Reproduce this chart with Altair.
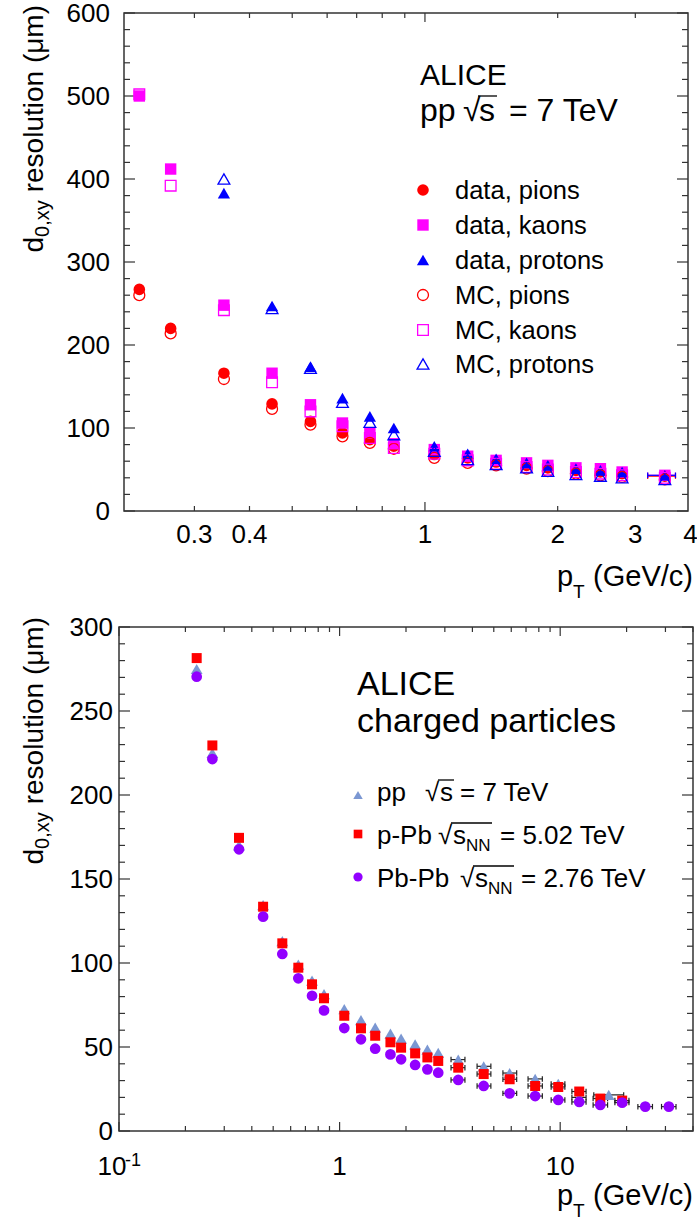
import altair as alt
import pandas as pd

FONT = "Liberation Sans"
FRAME = "#333333"

# ---------------- top panel: pp 7 TeV, identified particles ----------------
top_pt = [0.225, 0.265, 0.35, 0.45, 0.55, 0.65, 0.75, 0.85, 1.05, 1.25, 1.45,
          1.7, 1.9, 2.2, 2.5, 2.8, 3.5]
data_pions = [267, 220, 166, 129, 108, 94, 86, 78, 68, 64, 59, 55, 52, 49, 47, 45, 42]
mc_pions = [260, 214, 159, 123, 104, 90, 82, 75, 64, 58, 55, 51, 48, 45, 43, 41, 38]
data_kaons = [500, 412, 248, 166, 128, 106, 94, 81, 74, 66, 61, 58, 55, 52, 51, 47, 43]
mc_kaons = [502, 392, 242, 155, 120, 102, 88, 76, 69, 61, 57, 53, 50, 47, 45, 43, 40]
proton_pt = [0.35, 0.45, 0.55, 0.65, 0.75, 0.85, 1.05, 1.25, 1.45, 1.7, 1.9, 2.2,
             2.5, 2.8, 3.5]
data_protons = [383, 247, 174, 136, 114, 100, 78, 69, 63, 58, 55, 51, 49, 47, 43]
mc_protons = [400, 244, 172, 131, 107, 92, 72, 62, 56, 52, 48, 44, 42, 40, 38]
# last bin horizontal error (all species)
top_err_pt = [3.5]
top_err_lo = [3.2]
top_err_hi = [3.7]

# ---------------- bottom panel: charged particles ----------------
pp_pt = [0.225, 0.265, 0.35, 0.45, 0.55, 0.65, 0.75, 0.85, 1.05, 1.25, 1.45, 1.7,
         1.9, 2.2, 2.5, 2.8, 3.45, 4.5, 5.9, 7.7, 9.8, 12.2, 16.6]
pp_res = [275, 225, 170, 134.5, 113, 99, 89.5, 81.5, 72.5, 66, 61.5, 58, 55, 51.5,
          48.5, 46.5, 42.5, 38.5, 34.5, 31, 28, 20, 21.5]
pp_lo = [None] * 16 + [3.2, 4.2, 5.5, 7.15, 9.1, 11.3, 14.2]
pp_hi = [None] * 16 + [3.7, 4.85, 6.35, 8.3, 10.5, 13.1, 19.4]

ppb_pt = [0.225, 0.265, 0.35, 0.45, 0.55, 0.65, 0.75, 0.85, 1.05, 1.25, 1.45, 1.7,
          1.9, 2.2, 2.5, 2.8, 3.45, 4.5, 5.9, 7.7, 9.8, 12.2, 15.2, 19.1]
ppb_res = [281.5, 229.5, 174.5, 133.5, 111.7, 97.2, 87.3, 79, 68.6, 61.1, 56.7, 52.8,
           49.6, 46.2, 43.8, 41.7, 37.7, 33.9, 30.8, 26.8, 26.2, 23.5, 19.3, 18.1]
ppb_lo = [None] * 16 + [3.2, 4.2, 5.5, 7.15, 9.1, 11.3, 14.1, 17.7]
ppb_hi = [None] * 16 + [3.7, 4.85, 6.35, 8.3, 10.5, 13.1, 16.4, 20.5]

pbpb_pt = [0.225, 0.265, 0.35, 0.45, 0.55, 0.65, 0.75, 0.85, 1.05, 1.25, 1.45, 1.7,
           1.9, 2.2, 2.5, 2.8, 3.45, 4.5, 5.9, 7.7, 9.8, 12.2, 15.2, 19.1, 24.3, 31.1]
pbpb_res = [270.4, 221.4, 167.7, 127.6, 105.4, 90.9, 80.5, 71.8, 61.3, 54.6, 49, 45.6,
            42.7, 39.3, 36.7, 34.7, 30.4, 26.8, 22.4, 20.8, 18.5, 17.3, 15.5, 16.9,
            14.5, 14.5]
pbpb_lo = [None] * 16 + [3.2, 4.2, 5.5, 7.15, 9.1, 11.3, 14.1, 17.7, 22.5, 28.8]
pbpb_hi = [None] * 16 + [3.7, 4.85, 6.35, 8.3, 10.5, 13.1, 16.4, 20.5, 26.2, 33.5]

# ---------------- axis ticks and labels ----------------
top_y_major = [0, 100, 200, 300, 400, 500, 600]
top_y_minor = [v for v in range(20, 600, 20) if v % 100]
top_x_major = [1]
top_x_minor = [0.3, 0.4, 0.5, 0.6, 0.7, 0.8, 0.9, 2, 3]
top_x_label_vals = [0.3, 0.4, 1, 2, 3, 4]
top_x_labels = ["0.3", "0.4", "1", "2", "3", "4"]

bot_y_major = [0, 50, 100, 150, 200, 250, 300]
bot_y_minor = [v for v in range(10, 300, 10) if v % 50]
bot_x_major = [0.1, 1, 10]
bot_x_minor = [0.2, 0.3, 0.4, 0.5, 0.6, 0.7, 0.8, 0.9, 2, 3, 4, 5, 6, 7, 8, 9, 20, 30, 40]
bot_x_label_vals = [1, 10]
bot_x_labels = ["1", "10"]

# ---------------- colours ----------------
RED, MAGENTA, BLUE = "#ff0000", "#ff00ff", "#0000ff"
PP_COL, PPB_COL, PBPB_COL = "#7b97d2", "#ff0000", "#9200ff"

# ---------------- geometry (pixel layout) ----------------
T_L, T_R, T_T, T_B = 124, 688, 13, 511
B_L, B_R, B_T, B_B = 119, 693, 627, 1131

xs_top = alt.Scale(type="log", domain=[0.2077, 3.95], range=[T_L, T_R], nice=False)
ys_top = alt.Scale(domain=[0, 600], range=[T_B, T_T], nice=False, zero=False)
xs_bot = alt.Scale(type="log", domain=[0.1, 40], range=[B_L, B_R], nice=False)
ys_bot = alt.Scale(domain=[0, 300], range=[B_B, B_T], nice=False, zero=False)

ONE = pd.DataFrame({"k": [0]})


def pts(xv, yv, xs, ys, shape, color, size, filled=True):
    df = pd.DataFrame({"pt": xv, "res": yv})
    return alt.Chart(df).mark_point(shape=shape, filled=filled, size=size, color=color,
                                    opacity=1, strokeWidth=1.3).encode(
        x=alt.X("pt:Q", scale=xs, axis=None), y=alt.Y("res:Q", scale=ys, axis=None))


def xerr(xv, yv, lo, hi, xs, ys, color):
    df = pd.DataFrame({"pt": xv, "res": yv, "lo": lo, "hi": hi}).dropna()
    base = alt.Chart(df)
    bar = base.mark_rule(color=color, strokeWidth=1.2).encode(
        x=alt.X("lo:Q", scale=xs, axis=None), x2="hi:Q",
        y=alt.Y("res:Q", scale=ys, axis=None))
    cap_lo = base.mark_point(shape="M0,-1L0,1", size=30, color=color, filled=False,
                             opacity=1, strokeWidth=1.2).encode(
        x=alt.X("lo:Q", scale=xs, axis=None), y=alt.Y("res:Q", scale=ys, axis=None))
    cap_hi = base.mark_point(shape="M0,-1L0,1", size=30, color=color, filled=False,
                             opacity=1, strokeWidth=1.2).encode(
        x=alt.X("hi:Q", scale=xs, axis=None), y=alt.Y("res:Q", scale=ys, axis=None))
    return [bar, cap_lo, cap_hi]


def xticks(vals, xs, y0, length):
    df = pd.DataFrame({"v": vals})
    return alt.Chart(df).mark_rule(color=FRAME, strokeWidth=1.2).encode(
        x=alt.X("v:Q", scale=xs, axis=None), y=alt.value(y0), y2=alt.value(y0 + length))


def yticks(vals, ys, x0, length):
    df = pd.DataFrame({"v": vals})
    return alt.Chart(df).mark_rule(color=FRAME, strokeWidth=1.2).encode(
        y=alt.Y("v:Q", scale=ys, axis=None), x=alt.value(x0), x2=alt.value(x0 + length))


def xlabels(vals, labs, xs, y, size=26, dx=0):
    df = pd.DataFrame({"v": vals, "lab": labs})
    return alt.Chart(df).mark_text(align="center", baseline="alphabetic", fontSize=size,
                                   font=FONT, dx=dx, color="black").encode(
        x=alt.X("v:Q", scale=xs, axis=None), y=alt.value(y), text="lab:N")


def ylabels(vals, ys, x, size=26):
    df = pd.DataFrame({"v": vals, "lab": [str(v) for v in vals]})
    return alt.Chart(df).mark_text(align="right", baseline="alphabetic", fontSize=size,
                                   font=FONT, dy=9.3, color="black").encode(
        y=alt.Y("v:Q", scale=ys, axis=None), x=alt.value(x), text="lab:N")


def txt(s, x, y, size, align="left", angle=0, color="black"):
    kw = dict(text=s, fontSize=size, font=FONT, align=align, baseline="alphabetic",
              color=color)
    if angle:
        kw["angle"] = angle
    return alt.Chart(ONE).mark_text(**kw).encode(x=alt.value(x), y=alt.value(y))


def hline(x1, x2, y, w=1.3):
    return alt.Chart(ONE).mark_rule(color="black", strokeWidth=w).encode(
        x=alt.value(x1), x2=alt.value(x2), y=alt.value(y))


def sym(x, y, shape, color, size, filled=True):
    return alt.Chart(ONE).mark_point(shape=shape, filled=filled, size=size, color=color,
                                     opacity=1, strokeWidth=1.3).encode(
        x=alt.value(x), y=alt.value(y))


def frame(l, r, t, b):
    return alt.Chart(ONE).mark_rect(fill="transparent", stroke=FRAME, strokeWidth=1.5).encode(
        x=alt.value(l), x2=alt.value(r), y=alt.value(t), y2=alt.value(b))


def ytitle(x, y_end):
    # "d_{0,xy} resolution (μm)", rotated, right-aligned to the top
    main = 28
    sub = 20
    w_main = 6.688 * main
    return [
        txt("resolution (μm)", x, y_end, main, align="right", angle=270),
        txt("0,xy", x + 6, y_end + w_main + 8, sub, align="right", angle=270),
        txt("d", x, y_end + w_main + 8 + 36.7, main, align="right", angle=270),
    ]


def xtitle(y):
    return [
        txt("p", 557, y, 29),
        txt("T", 573, y + 12, 19),
        txt("(GeV/c)", 693, y, 29, align="right"),
    ]


# ================= top panel =================
top_layers = [frame(T_L, T_R, T_T, T_B),
              xticks(top_x_major, xs_top, T_B, -9), xticks(top_x_minor, xs_top, T_B, -5),
              xticks(top_x_major, xs_top, T_T, 9), xticks(top_x_minor, xs_top, T_T, 5),
              yticks(top_y_major, ys_top, T_L, 11), yticks(top_y_minor, ys_top, T_L, 6),
              yticks(top_y_major, ys_top, T_R, -11), yticks(top_y_minor, ys_top, T_R, -6),
              xlabels(top_x_label_vals, top_x_labels, xs_top, 543),
              ylabels(top_y_major, ys_top, 110)]
top_layers += xtitle(586)
top_layers += ytitle(43, 5)

# error bars at the last bin
top_layers += xerr(top_err_pt, [42], top_err_lo, top_err_hi, xs_top, ys_top, RED)
top_layers += xerr(top_err_pt, [43], top_err_lo, top_err_hi, xs_top, ys_top, MAGENTA)
top_layers += xerr(top_err_pt, [43], top_err_lo, top_err_hi, xs_top, ys_top, BLUE)

top_layers += [
    pts(top_pt, data_pions, xs_top, ys_top, "circle", RED, 135),
    pts(top_pt, data_kaons, xs_top, ys_top, "square", MAGENTA, 130),
    pts(proton_pt, data_protons, xs_top, ys_top, "triangle-up", BLUE, 150),
    pts(top_pt, mc_pions, xs_top, ys_top, "circle", RED, 120, filled=False),
    pts(top_pt, mc_kaons, xs_top, ys_top, "square", MAGENTA, 115, filled=False),
    pts(proton_pt, mc_protons, xs_top, ys_top, "triangle-up", BLUE, 140, filled=False),
]

# legend (top)
leg_rows = [190, 225, 260, 295, 330, 364]
leg_items = [("data, pions", "circle", RED, True, 135),
             ("data, kaons", "square", MAGENTA, True, 130),
             ("data, protons", "triangle-up", BLUE, True, 150),
             ("MC, pions", "circle", RED, False, 120),
             ("MC, kaons", "square", MAGENTA, False, 115),
             ("MC, protons", "triangle-up", BLUE, False, 140)]
for yy, (lab, shp, col, fil, sz) in zip(leg_rows, leg_items):
    top_layers.append(sym(423, yy, shp, col, sz, fil))
    top_layers.append(txt(lab, 455, yy + 9.3, 25.5))

# header (top)
top_layers += [
    txt("ALICE", 420, 85, 30),
    txt("pp", 420, 121, 32),
    txt("√", 463, 121, 32),
    txt("s", 479, 121, 32),
    hline(478, 497, 96),
    txt("= 7 TeV", 509, 121, 32),
]

top = alt.layer(*top_layers)

# ================= bottom panel =================
bot_layers = [frame(B_L, B_R, B_T, B_B),
              xticks(bot_x_major, xs_bot, B_B, -9), xticks(bot_x_minor, xs_bot, B_B, -5),
              xticks(bot_x_major, xs_bot, B_T, 9), xticks(bot_x_minor, xs_bot, B_T, 5),
              yticks(bot_y_major, ys_bot, B_L, 11), yticks(bot_y_minor, ys_bot, B_L, 6),
              yticks(bot_y_major, ys_bot, B_R, -11), yticks(bot_y_minor, ys_bot, B_R, -6),
              xlabels(bot_x_label_vals, bot_x_labels, xs_bot, 1175),
              xlabels([0.1], ["10"], xs_bot, 1175, dx=-7),
              xlabels([0.1], ["-1"], xs_bot, 1166, size=18, dx=14),
              ylabels(bot_y_major, ys_bot, 113)]
bot_layers += xtitle(1205)
bot_layers += ytitle(43, 617)

bot_layers += xerr(pp_pt, pp_res, pp_lo, pp_hi, xs_bot, ys_bot, "#222222")
bot_layers += xerr(ppb_pt, ppb_res, ppb_lo, ppb_hi, xs_bot, ys_bot, "#222222")
bot_layers += xerr(pbpb_pt, pbpb_res, pbpb_lo, pbpb_hi, xs_bot, ys_bot, "#222222")
bot_layers += [
    pts(pp_pt, pp_res, xs_bot, ys_bot, "triangle-up", PP_COL, 140),
    pts(ppb_pt, ppb_res, xs_bot, ys_bot, "square", PPB_COL, 100),
    pts(pbpb_pt, pbpb_res, xs_bot, ys_bot, "circle", PBPB_COL, 115),
]

# header + legend (bottom)
bot_layers += [
    txt("ALICE", 357, 695, 34),
    txt("charged particles", 357, 732, 34),
    sym(358, 795, "triangle-up", PP_COL, 90),
    txt("pp", 377, 801, 26),
    txt("√", 425, 801, 26),
    txt("s", 440, 801, 26),
    hline(438, 454, 780),
    txt("= 7 TeV", 460, 801, 26),
    sym(358, 834, "square", PPB_COL, 75),
    txt("p-Pb", 377, 844, 26),
    txt("√", 438, 844, 26),
    txt("s", 453, 844, 26),
    txt("NN", 466, 851, 17),
    hline(451, 492, 823),
    txt("= 5.02 TeV", 500, 844, 26),
    sym(358, 877, "circle", PBPB_COL, 85),
    txt("Pb-Pb", 377, 887, 26),
    txt("√", 460, 887, 26),
    txt("s", 475, 887, 26),
    txt("NN", 488, 894, 17),
    hline(473, 514, 866),
    txt("= 2.76 TeV", 521, 887, 26),
]

bottom = alt.layer(*bot_layers)

chart = alt.layer(top, bottom).resolve_scale(x="independent", y="independent").properties(
    width=697, height=1223, autosize=alt.AutoSizeParams(type="none"), padding=0
).configure_view(strokeWidth=0)

chart.save("out.html", embed_options={"renderer": "svg", "actions": False})
